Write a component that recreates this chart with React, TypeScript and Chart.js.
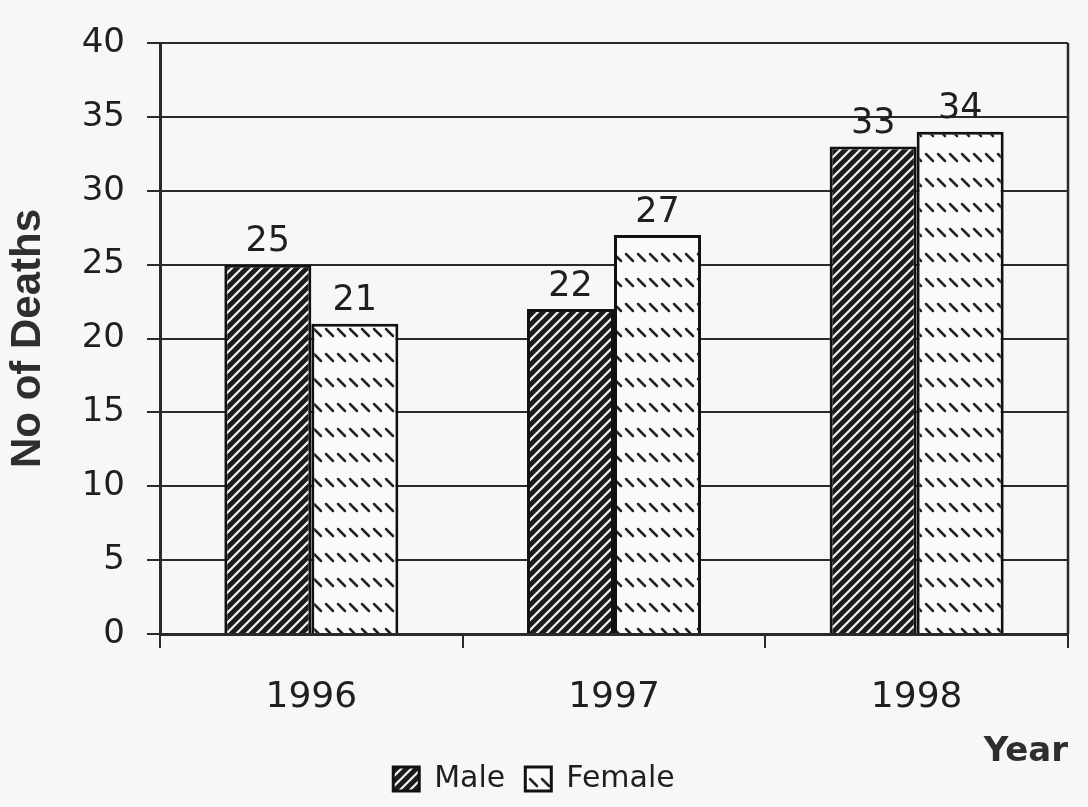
import { useEffect, useRef } from "react";
import { Chart, registerables } from "chart.js";

Chart.register(...registerables);

const years = ["1996", "1997", "1998"];
const maleDeaths = [25, 22, 33];
const femaleDeaths = [21, 27, 34];
const seriesNames = ["Male", "Female"];
const yAxisTitle = "No of Deaths";
const xAxisTitle = "Year";

const INK = "#1f1f1f";

function makeMalePattern(): CanvasPattern | string {
  const c = document.createElement("canvas");
  c.width = 10;
  c.height = 10;
  const g = c.getContext("2d");
  if (!g) return INK;
  g.fillStyle = "#1c1c1c";
  g.fillRect(0, 0, 10, 10);
  g.strokeStyle = "#f4f4f4";
  g.lineWidth = 2.2;
  g.beginPath();
  g.moveTo(-1, 11);
  g.lineTo(11, -1);
  g.moveTo(-6, 6);
  g.lineTo(6, -6);
  g.moveTo(4, 16);
  g.lineTo(16, 4);
  g.stroke();
  return g.createPattern(c, "repeat") || INK;
}

function makeFemalePattern(): CanvasPattern | string {
  const c = document.createElement("canvas");
  c.width = 12;
  c.height = 25;
  const g = c.getContext("2d");
  if (!g) return "#fafafa";
  g.fillStyle = "#fafafa";
  g.fillRect(0, 0, 12, 25);
  g.strokeStyle = "#222";
  g.lineWidth = 2.5;
  g.lineCap = "round";
  g.beginPath();
  g.moveTo(2, 4);
  g.lineTo(9, 11);
  g.stroke();
  return g.createPattern(c, "repeat") || "#fafafa";
}

const valueLabels = {
  id: "valueLabels",
  afterDatasetsDraw(chart: any) {
    const ctx = chart.ctx;
    ctx.save();
    ctx.font = '35px "DejaVu Sans"';
    ctx.fillStyle = INK;
    ctx.textAlign = "center";
    ctx.textBaseline = "bottom";
    chart.data.datasets.forEach((ds: any, i: number) => {
      const meta = chart.getDatasetMeta(i);
      meta.data.forEach((bar: any, j: number) => {
        ctx.fillText(String(ds.data[j]), bar.x, bar.y - 5);
      });
    });
    ctx.restore();
  },
};

const frame = {
  id: "frame",
  afterDraw(chart: any) {
    const { ctx, chartArea } = chart;
    ctx.save();
    ctx.strokeStyle = "#2a2a2a";
    ctx.lineWidth = 2.5;
    ctx.beginPath();
    ctx.moveTo(chartArea.right, chartArea.top);
    ctx.lineTo(chartArea.right, chartArea.bottom);
    ctx.stroke();
    ctx.restore();
  },
};

export default function App() {
  const ref = useRef<HTMLCanvasElement | null>(null);

  useEffect(() => {
    if (!ref.current) return;
    const malePattern = makeMalePattern();
    const femalePattern = makeFemalePattern();
    const chart = new Chart(ref.current, {
      type: "bar",
      data: {
        labels: years,
        datasets: [
          {
            label: seriesNames[0],
            data: maleDeaths,
            backgroundColor: malePattern as any,
            borderColor: "#111",
            borderWidth: 3,
            categoryPercentage: 0.575,
            barPercentage: 1,
          },
          {
            label: seriesNames[1],
            data: femaleDeaths,
            backgroundColor: femalePattern as any,
            borderColor: "#111",
            borderWidth: 3,
            categoryPercentage: 0.575,
            barPercentage: 1,
          },
        ],
      },
      options: {
        animation: false,
        responsive: true,
        maintainAspectRatio: false,
        layout: { padding: { left: 0, right: 20, top: 43, bottom: 3 } },
        plugins: {
          tooltip: { enabled: false },
          legend: {
            position: "bottom",
            labels: {
              font: { family: "DejaVu Sans", size: 30 },
              color: INK,
              boxWidth: 26,
              boxHeight: 24,
              padding: 20,
            },
          },
        },
        scales: {
          x: {
            grid: {
              display: true,
              drawOnChartArea: false,
              drawTicks: true,
              tickLength: 14,
              color: "#2a2a2a",
              lineWidth: 2,
              offset: true,
            },
            border: { color: "#2a2a2a", width: 3 },
            ticks: {
              font: { family: "DejaVu Sans", size: 36 },
              color: INK,
              padding: 28,
            },
            title: {
              display: true,
              text: xAxisTitle,
              align: "end",
              color: "#2e2e2e",
              font: { family: "DejaVu Sans", weight: "bold", size: 34 },
              padding: { top: 0, bottom: -29 },
            },
            afterFit(scale: any) {
              scale.height = 110;
            },
          },
          y: {
            min: 0,
            max: 40,
            ticks: {
              stepSize: 5,
              font: { family: "DejaVu Sans", size: 34 },
              color: INK,
              padding: 22,
            },
            grid: {
              color: "#2a2a2a",
              lineWidth: 2,
              tickLength: 13,
              drawTicks: true,
            },
            border: { color: "#2a2a2a", width: 3 },
            title: {
              display: true,
              text: yAxisTitle,
              color: "#2e2e2e",
              font: { family: "Liberation Sans", weight: "bold", size: 42 },
              padding: { top: 3, bottom: 0 },
            },
            afterFit(scale: any) {
              scale.width = 160;
            },
          },
        },
      },
      plugins: [valueLabels, frame],
    });
    return () => chart.destroy();
  }, []);

  return (
    <div
      style={{
        position: "fixed",
        left: 0,
        top: 0,
        width: 1088,
        height: 807,
        background: "#f7f7f7",
      }}
    >
      <canvas ref={ref} />
    </div>
  );
}
